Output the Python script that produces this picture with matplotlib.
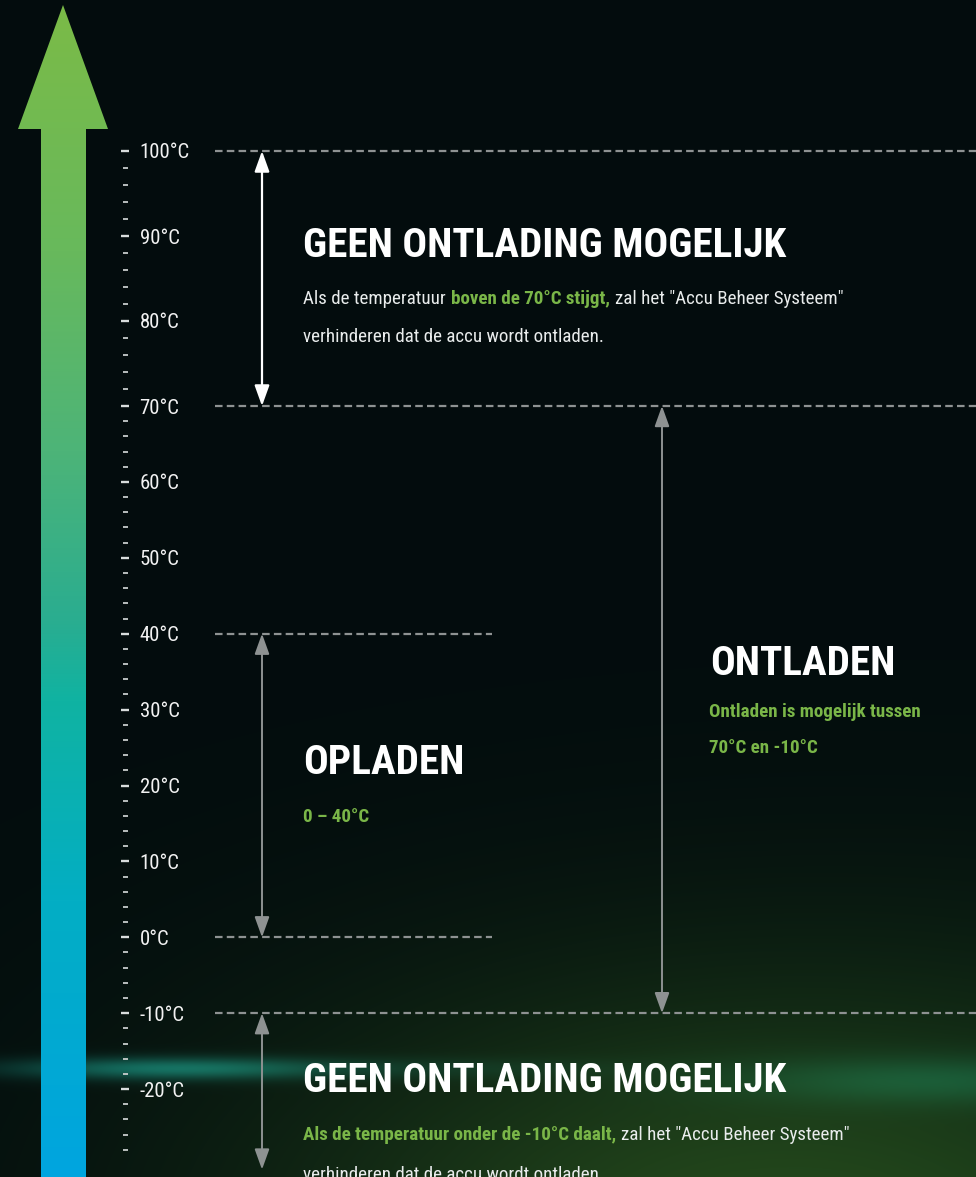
import numpy as np
import matplotlib
matplotlib.use("Agg")
import matplotlib.pyplot as plt
from matplotlib import font_manager
from matplotlib.patches import Polygon
from matplotlib.ticker import FixedLocator, FixedFormatter

W, H = 976, 1177

# temperature ladder
major_temps = [100, 90, 80, 70, 60, 50, 40, 30, 20, 10, 0, -10, -20]
major_labels = ["100°C", "90°C", "80°C", "70°C", "60°C", "50°C", "40°C",
                "30°C", "20°C", "10°C", "0°C", "-10°C", "-20°C"]
minor_temps = [t for t in range(-28, 100, 2) if t % 10 != 0]

# zone limits (°C)
zone_lines = [100, 70, 40, 0, -10]
no_discharge_high = (100, 70)
charge_range = (40, 0)
discharge_range = (70, -10)
no_discharge_low = (-10, -30.6)

title_high = "GEEN ONTLADING MOGELIJK"
body_high_1 = [("Als de temperatuur", "w", "normal"),
               ("boven de 70°C stijgt,", "g", "bold"),
               ('zal het "Accu Beheer Systeem"', "w", "normal")]
body_2 = "verhinderen dat de accu wordt ontladen."
title_charge = "OPLADEN"
sub_charge = "0 – 40°C"
title_discharge = "ONTLADEN"
sub_discharge = ["Ontladen is mogelijk tussen", "70°C en -10°C"]
title_low = "GEEN ONTLADING MOGELIJK"
body_low_1 = [("Als de temperatuur onder de -10°C daalt,", "g", "bold"),
              ('zal het "Accu Beheer Systeem"', "w", "normal")]

WHITE = "#ffffff"
BODY = "#e9ecec"
GREEN = "#7ab648"
GREY = "#8e9292"
COLORS = {"w": BODY, "g": GREEN}

# pick a narrow font
entries = font_manager.fontManager.ttflist
names = {f.name for f in entries}
FONT = None
for cand in ["Roboto Condensed", "Liberation Sans Narrow", "Open Sans Condensed"]:
    if cand in names:
        FONT = cand
        break
if FONT is None:
    if any(f.name == "DejaVu Sans" and "condensed" in str(f.stretch) for f in entries):
        FONT = "DejaVu Sans"
        plt.rcParams["font.stretch"] = "condensed"
    else:
        FONT = "Liberation Sans"
plt.rcParams["font.family"] = [FONT, "DejaVu Sans"]

fig = plt.figure(figsize=(W / 100, H / 100), dpi=100)
rend = fig.canvas.get_renderer()


def fit_size(s, target, weight="normal"):
    t = fig.text(0, 0, s, fontsize=10, fontweight=weight)
    w = t.get_window_extent(renderer=rend).width
    t.remove()
    return 10 * target / w


title_fs = fit_size(title_high, 480, "bold")
body_fs = fit_size("Als de temperatuur boven de 70°C stijgt, zal het \"Accu Beheer Systeem\"", 532)
green_fs = fit_size(sub_discharge[0], 212, "bold")
tick_fs = fit_size("100°C", 50)

# background
bg = fig.add_axes([0, 0, 1, 1])
yy, xx = np.mgrid[0:H, 0:W].astype(float)
img = np.zeros((H, W, 3)) + np.array([3, 12, 13]) / 255
glow = np.exp(-((xx - 760) / 480) ** 2 - ((yy - 1260) / 270) ** 2)
img += glow[..., None] * np.array([30, 50, 12]) / 255
haze = np.exp(-((yy - 1177) / 300) ** 2) * (0.2 + 0.8 * xx / W)
img += haze[..., None] * np.array([4, 14, 4]) / 255
band = np.exp(-((yy - 1068) / 11) ** 2) * (np.exp(-((xx - 170) / 160) ** 2) * 0.85
                                          + 0.15 * np.exp(-((xx - 450) / 180) ** 2))
img += band[..., None] * np.array([16, 105, 95]) / 255
band2 = np.exp(-((yy - 1080) / 24) ** 2) * np.exp(-((xx - 930) / 200) ** 2)
img += band2[..., None] * np.array([4, 40, 32]) / 255
bg.imshow(np.clip(img, 0, 1), extent=(0, W, H, 0), aspect="auto", zorder=0)

# gradient arrow
stops_y = [5, 250, 450, 620, 700, 900, 1177]
stops_c = ["#7bbb47", "#68b95c", "#4db478", "#2aad90", "#10b3a2", "#03aec4", "#00a5e0"]
rows = np.arange(5, H)
rgb = np.array([matplotlib.colors.to_rgb(c) for c in stops_c])
grad = np.stack([np.interp(rows, stops_y, rgb[:, k]) for k in range(3)], axis=-1)
grad = np.repeat(grad[:, None, :], 4, axis=1)
im = bg.imshow(grad, extent=(18, 108, H, 5), aspect="auto", zorder=1)
arrow_shape = Polygon([(63, 5), (108, 129), (86, 129), (86, H), (41, H), (41, 129), (18, 129)],
                      closed=True, facecolor="none", edgecolor="none", transform=bg.transData)
bg.add_patch(arrow_shape)
im.set_clip_path(arrow_shape)
bg.set_xlim(0, W)
bg.set_ylim(H, 0)
bg.axis("off")


# text helpers
def run_line(x, y, parts, size):
    prev = None
    gap = 0.27 * size * 100 / 72
    for s, c, wt in parts:
        if prev is None:
            prev = bg.text(x, y, s, color=COLORS[c], fontsize=size, fontweight=wt,
                           ha="left", va="baseline", zorder=5)
        else:
            prev = bg.annotate(s, xy=(1, 0), xycoords=prev, xytext=(gap, 0),
                               textcoords="offset pixels", ha="left", va="bottom",
                               color=COLORS[c], fontsize=size, fontweight=wt, zorder=5)


bg.text(303, 257, title_high, color=WHITE, fontsize=title_fs, fontweight="bold", va="baseline")
run_line(303, 304, body_high_1, body_fs)
bg.text(303, 342, body_2, color=BODY, fontsize=body_fs, va="baseline")

bg.text(303, 774, title_charge, color=WHITE, fontsize=title_fs, fontweight="bold", va="baseline")
bg.text(303, 822, sub_charge, color=GREEN, fontsize=green_fs, fontweight="bold", va="baseline")

bg.text(710, 675, title_discharge, color=WHITE, fontsize=title_fs, fontweight="bold", va="baseline")
bg.text(709, 717, sub_discharge[0], color=GREEN, fontsize=green_fs, fontweight="bold", va="baseline")
bg.text(709, 753, sub_discharge[1], color=GREEN, fontsize=green_fs, fontweight="bold", va="baseline")

bg.text(303, 1092, title_low, color=WHITE, fontsize=title_fs, fontweight="bold", va="baseline")
run_line(303, 1140, body_low_1, body_fs)
bg.text(303, 1180, body_2, color=BODY, fontsize=body_fs, va="baseline")

# temperature axis
ax = fig.add_axes([0, 0, 1, 1], zorder=2)
ax.set_facecolor("none")
PIVOT, PIVOT_PX, TOP_K, LOW_K = 70, 406, 8.5, 7.59


def fwd(t):
    t = np.asarray(t, dtype=float)
    return np.where(t >= PIVOT, (t - PIVOT) * TOP_K, (t - PIVOT) * LOW_K)


def inv(v):
    v = np.asarray(v, dtype=float)
    return np.where(v >= 0, v / TOP_K + PIVOT, v / LOW_K + PIVOT)


ax.set_yscale("function", functions=(fwd, inv))
ax.set_xlim(0, W)
ax.set_ylim(float(inv(PIVOT_PX - H)), float(inv(PIVOT_PX)))

for s in ["top", "bottom", "left"]:
    ax.spines[s].set_visible(False)
ax.spines["right"].set_position(("data", 125))
ax.spines["right"].set_visible(False)
ax.yaxis.set_ticks_position("right")
ax.yaxis.set_major_locator(FixedLocator(major_temps))
ax.yaxis.set_major_formatter(FixedFormatter(major_labels))
ax.yaxis.set_minor_locator(FixedLocator(minor_temps))
ax.tick_params(axis="y", which="major", direction="inout", length=6, width=1.7,
               color="#d9dddd", labelcolor="#f2f2f2", labelsize=tick_fs, pad=7.5)
ax.tick_params(axis="y", which="minor", direction="inout", length=3.6, width=1.3,
               color="#c8cccc")
ax.tick_params(axis="x", bottom=False, labelbottom=False)

# zone boundaries
line_ends = [976, 976, 492, 492, 976]
for t, xe in zip(zone_lines, line_ends):
    ax.hlines(t, 215, xe, colors=GREY, linewidth=1.6, linestyles=(0, (3.4, 1.9)))


def span(x, rng, color, lw):
    ax.annotate("", xy=(x, rng[1]), xytext=(x, rng[0]),
                arrowprops=dict(arrowstyle="<|-|>,head_length=1.25,head_width=0.45",
                                mutation_scale=10, color=color, lw=lw,
                                shrinkA=0, shrinkB=0),
                annotation_clip=False)


span(262, no_discharge_high, WHITE, 1.6)
span(262, charge_range, GREY, 1.4)
span(662, discharge_range, GREY, 1.4)
span(262, no_discharge_low, GREY, 1.4)

fig.savefig("out.png", dpi=100)
